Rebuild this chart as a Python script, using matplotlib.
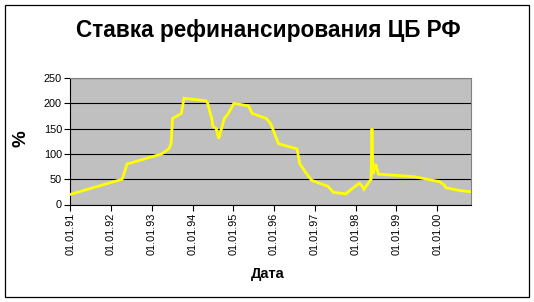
import numpy as np
import matplotlib
matplotlib.use('Agg')
import matplotlib.pyplot as plt
import matplotlib.dates as mdates
from matplotlib.patches import Rectangle

# ставка рефинансирования ЦБ РФ, % годовых
dates = ['1991-01-01', '1992-04-10', '1992-05-23', '1993-03-30', '1993-06-02',
         '1993-06-22', '1993-07-05', '1993-09-23', '1993-10-15', '1994-04-29',
         '1994-05-17', '1994-06-02', '1994-06-22', '1994-07-01', '1994-08-01',
         '1994-08-23', '1994-10-12', '1994-11-17', '1995-01-06', '1995-05-16',
         '1995-06-19', '1995-10-24', '1995-12-01', '1996-02-10', '1996-07-24',
         '1996-08-19', '1996-10-21', '1996-12-02', '1997-02-10', '1997-04-28',
         '1997-06-16', '1997-10-06', '1997-11-11', '1998-02-02', '1998-02-17',
         '1998-03-02', '1998-03-16', '1998-05-19', '1998-05-27', '1998-06-05',
         '1998-06-29', '1998-07-24', '1999-06-10', '2000-01-24', '2000-03-07',
         '2000-03-21', '2000-07-10', '2000-11-04']
rates = [20, 50, 80, 100, 110,
         120, 170, 180, 210, 205,
         200, 185, 170, 155, 150,
         130, 170, 180, 200, 195,
         180, 170, 160, 120, 110,
         80, 60, 48, 42, 36,
         24, 21, 28, 42, 39,
         36, 30, 50, 150, 60,
         80, 60, 55, 45, 38,
         33, 28, 25]
year_ticks = [str(y) + '-01-01' for y in range(1991, 2001)]

font = 'Liberation Sans'
x = np.array(dates, dtype='datetime64[D]')

fig = plt.figure(figsize=(5.34, 3.02), dpi=100)
fig.patches.append(Rectangle((5.5 / 534, 1 - 296.5 / 302), 523.5 / 534, 291.5 / 302,
                             transform=fig.transFigure, fill=False,
                             edgecolor='black', linewidth=0.9))

ax = fig.add_axes([70.3 / 534, 1 - 204.5 / 302, 401.2 / 534, 126.5 / 302])
ax.set_facecolor('#C0C0C0')
ax.plot(x, rates, color='#FFFF00', linewidth=2.0, solid_joinstyle='miter', zorder=3)

ax.set_xlim(x[0], x[-1])
ax.set_ylim(0, 250)
ax.set_yticks(range(0, 251, 50))
ax.set_xticks(np.array(year_ticks, dtype='datetime64[D]'))
ax.xaxis.set_major_formatter(mdates.DateFormatter('%d.%m.%y'))
ax.grid(axis='y', color='black', linewidth=0.8)
ax.set_axisbelow(True)

for s in ['top', 'right']:
    ax.spines[s].set_color('#808080')
    ax.spines[s].set_linewidth(0.8)
for s in ['left', 'bottom']:
    ax.spines[s].set_color('black')
    ax.spines[s].set_linewidth(0.8)

ax.tick_params(axis='both', direction='out', length=4, width=0.8, pad=2,
               labelsize=7.8, colors='black')
for lbl in ax.get_xticklabels():
    lbl.set_rotation(90)
    lbl.set_fontfamily(font)
for lbl in ax.get_yticklabels():
    lbl.set_fontfamily(font)

fig.text(268 / 534, 1 - 31 / 302, 'Ставка рефинансирования ЦБ РФ', ha='center', va='center',
         fontsize=16.3, fontweight='bold', family=font)
fig.text(21 / 534, 1 - 139 / 302, '%', rotation=90, ha='center', va='center',
         fontsize=13.5, fontweight='bold', family=font)
fig.text(268 / 534, 1 - 274 / 302, 'Дата', ha='center', va='center',
         fontsize=10.5, fontweight='bold', family=font)

fig.savefig('out.png', dpi=100)
